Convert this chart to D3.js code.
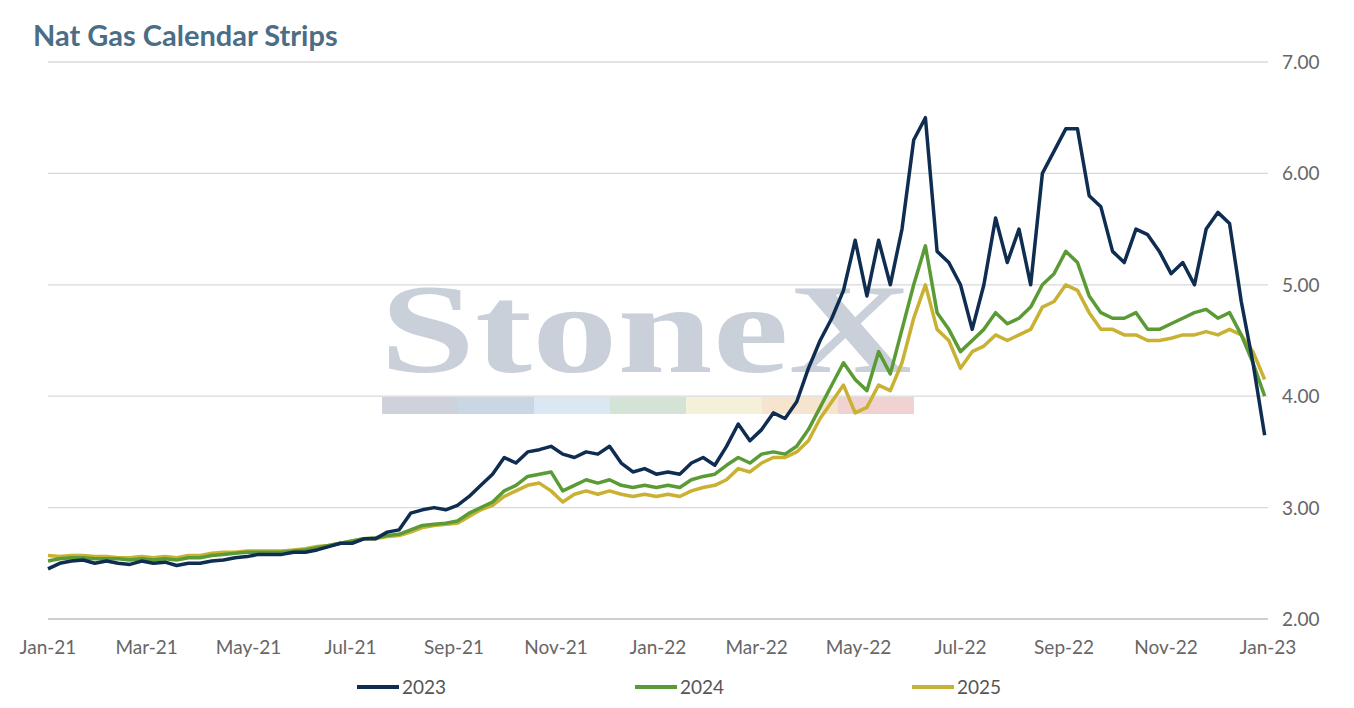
<!DOCTYPE html>
<html><head><meta charset="utf-8">
<script src="https://cdn.jsdelivr.net/npm/d3@7"></script>
<style>body{margin:0;background:#fff}svg{font-family:Lato,"Open Sans",sans-serif}</style>
</head><body><svg id="c" width="1354" height="708"></svg>
<script>
// weekly calendar strip settles, Jan-21 .. Dec-22
var startDate = new Date(2021, 0, 1);
var strip2023 = [2.45,2.50,2.52,2.53,2.50,2.52,2.50,2.49,2.52,2.50,2.51,2.48,2.50,2.50,2.52,2.53,2.55,2.56,2.58,2.58,2.58,2.60,2.60,2.62,2.65,2.68,
  2.68,2.72,2.72,2.78,2.80,2.95,2.98,3.00,2.98,
  3.02,3.10,3.20,3.30,3.45,3.40,3.50,3.52,3.55,
  3.48,3.45,3.50,3.48,3.55,3.40,3.32,3.35,3.30,
  3.32,3.30,3.40,3.45,3.38,3.55,3.75,3.60,
  3.70,3.85,3.80,3.95,4.25,4.50,4.70,4.95,5.40,
  4.90,5.40,5.00,5.50,6.30,6.50,5.30,5.20,5.00,
  4.60,5.00,5.60,5.20,5.50,5.00,6.00,6.20,6.40,
  6.40,5.80,5.70,5.30,5.20,5.50,5.45,5.30,5.10,
  5.20,5.00,5.50,5.65,5.55,4.85,4.30,3.65];
var strip2024 = [2.52,2.54,2.55,2.55,2.54,2.54,2.54,2.53,2.54,2.53,2.54,2.53,2.55,2.55,2.57,2.58,2.59,2.60,2.60,2.60,2.60,2.61,2.62,2.64,2.66,2.68,
  2.70,2.72,2.73,2.75,2.76,2.80,2.84,2.85,2.86,
  2.88,2.95,3.00,3.05,3.15,3.20,3.28,3.30,3.32,
  3.15,3.20,3.25,3.22,3.25,3.20,3.18,3.20,3.18,
  3.20,3.18,3.25,3.28,3.30,3.38,3.45,3.40,
  3.48,3.50,3.48,3.55,3.70,3.90,4.10,4.30,4.15,
  4.05,4.40,4.20,4.60,5.00,5.35,4.75,4.60,4.40,
  4.50,4.60,4.75,4.65,4.70,4.80,5.00,5.10,5.30,
  5.20,4.90,4.75,4.70,4.70,4.75,4.60,4.60,4.65,
  4.70,4.75,4.78,4.70,4.75,4.55,4.30,4.00];
var strip2025 = [2.57,2.56,2.57,2.57,2.56,2.56,2.55,2.55,2.56,2.55,2.56,2.55,2.57,2.57,2.59,2.60,2.60,2.61,2.61,2.61,2.61,2.62,2.63,2.65,2.66,2.68,
  2.70,2.72,2.72,2.74,2.75,2.78,2.82,2.84,2.85,
  2.86,2.92,2.98,3.02,3.10,3.15,3.20,3.22,3.15,
  3.05,3.12,3.15,3.12,3.15,3.12,3.10,3.12,3.10,
  3.12,3.10,3.15,3.18,3.20,3.25,3.35,3.32,
  3.40,3.45,3.45,3.50,3.60,3.80,3.95,4.10,3.85,
  3.90,4.10,4.05,4.30,4.70,5.00,4.60,4.50,4.25,
  4.40,4.45,4.55,4.50,4.55,4.60,4.80,4.85,5.00,
  4.95,4.75,4.60,4.60,4.55,4.55,4.50,4.50,4.52,
  4.55,4.55,4.58,4.55,4.60,4.55,4.40,4.15];
var seriesNames = ["2023", "2024", "2025"];
var seriesColors = ["#0f2d50", "#5b9b36", "#c9b133"];
var yTicks = [2, 3, 4, 5, 6, 7];

var svg = d3.select("#c");
var x = d3.scaleTime().domain([new Date(2021,0,1), new Date(2023,0,1)]).range([48, 1268]);
var y = d3.scaleLinear().domain([2, 7]).range([619, 62]);

svg.append("text").attr("x", 33).attr("y", 46).attr("fill", "#4b6d86")
  .attr("font-size", 29).attr("font-weight", "bold").text("Nat Gas Calendar Strips");

// grid
svg.append("g").selectAll("line").data(yTicks).join("line")
  .attr("x1", 48).attr("x2", 1268).attr("y1", d => y(d)).attr("y2", d => y(d))
  .attr("stroke", d => d == 2 ? "#bfbfbf" : "#d9d9d9").attr("stroke-width", 1.3);
svg.append("g").selectAll("text").data(yTicks).join("text")
  .attr("x", 1282).attr("y", d => y(d) + 7).attr("fill", "#666").attr("font-size", 19)
  .text(d => d.toFixed(2));

// watermark
svg.append("text").attr("x", 380).attr("y", 372).attr("font-family", "Liberation Serif, serif")
  .attr("font-size", 128).attr("font-weight", "bold").attr("fill", "#c9d0d9")
  .attr("textLength", 532).attr("lengthAdjust", "spacingAndGlyphs").text("StoneX");
var wmColors = ["#cdd2db","#c9d6e3","#d9e8f3","#d3e4d6","#f5f1d8","#f7e4cf","#f1d2d2"];
svg.append("g").selectAll("rect").data(wmColors).join("rect")
  .attr("x", (d, i) => 382 + i * 76).attr("y", 397).attr("width", 76).attr("height", 17).attr("fill", d => d);

// x labels
var xTicks = d3.timeMonth.every(2).range(new Date(2021,0,1), new Date(2023,0,2));
svg.append("g").selectAll("text").data(xTicks).join("text")
  .attr("x", d => x(d)).attr("y", 654).attr("text-anchor", "middle").attr("fill", "#666").attr("font-size", 19)
  .text(d3.timeFormat("%b-%y"));

var line = d3.line().x((d, i) => x(d3.timeWeek.offset(startDate, i))).y(d => y(d));
[strip2025, strip2024, strip2023].forEach((s, k) => {
  svg.append("path").datum(s).attr("d", line).attr("fill", "none")
    .attr("stroke", seriesColors[2 - k]).attr("stroke-width", 3.5).attr("stroke-linejoin", "round");
});

// legend
var legX = [357, 635, 912];
seriesNames.forEach((n, i) => {
  svg.append("line").attr("x1", legX[i]).attr("x2", legX[i] + 42).attr("y1", 687).attr("y2", 687)
    .attr("stroke", seriesColors[i]).attr("stroke-width", 4);
  svg.append("text").attr("x", legX[i] + 45).attr("y", 694).attr("fill", "#555").attr("font-size", 19).text(n);
});
</script></body></html>
